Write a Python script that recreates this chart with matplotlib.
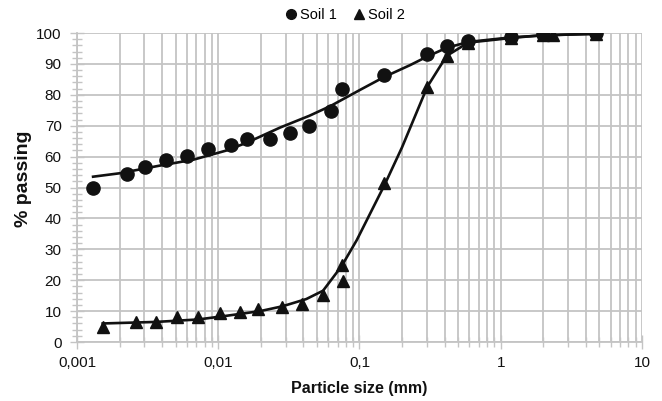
import matplotlib
matplotlib.use("Agg")
import matplotlib.pyplot as plt
from matplotlib.ticker import LogLocator, FixedLocator, FuncFormatter, NullFormatter, MultipleLocator
from matplotlib.lines import Line2D

plt.rcParams['font.family'] = ['Liberation Sans', 'DejaVu Sans']

# Measured gradation points
soil1_size = [0.0013, 0.00225, 0.00303, 0.00427, 0.00598, 0.0084, 0.01224, 0.0161,
              0.0232, 0.0322, 0.0441, 0.0625, 0.0748, 0.150, 0.302, 0.414, 0.589,
              1.19, 1.98, 4.72]
soil1_pass = [49.7, 54.4, 56.7, 58.9, 60.2, 62.6, 63.6, 65.6, 65.6, 67.7, 69.9,
              74.9, 81.8, 86.4, 93.2, 95.8, 97.5, 98.8, 99.7, 100.0]

soil2_size = [0.00152, 0.00262, 0.00362, 0.00513, 0.00722, 0.0103, 0.01425, 0.0192,
              0.0281, 0.0394, 0.0548, 0.0748, 0.076, 0.150, 0.302, 0.414, 0.589,
              1.19, 1.98, 2.36, 4.72]
soil2_pass = [5.0, 6.6, 6.6, 8.0, 8.0, 9.5, 9.8, 10.6, 11.4, 12.3, 15.2, 24.9, 19.8,
              51.4, 82.6, 92.6, 96.9, 98.4, 99.5, 99.4, 99.7]

# Fitted gradation curves
curve1_size = [0.0013, 0.002, 0.00387, 0.00666, 0.01148, 0.0161, 0.0274, 0.0441,
               0.0625, 0.101, 0.150, 0.228, 0.302, 0.414, 0.589, 1.19, 1.98, 4.72]
curve1_pass = [53.5, 54.6, 57.1, 59.0, 62.0, 64.6, 69.4, 73.2, 76.4, 81.6, 85.8,
               89.6, 92.4, 95.2, 97.1, 98.6, 99.2, 99.8]

curve2_size = [0.00152, 0.00362, 0.00722, 0.0115, 0.0198, 0.0281, 0.0322, 0.042,
               0.0552, 0.0748, 0.0957, 0.151, 0.200, 0.302, 0.414, 0.589, 1.19,
               1.98, 4.72]
curve2_pass = [6.0, 6.5, 7.3, 8.5, 10.0, 11.5, 12.3, 13.9, 16.6, 24.6, 33.0, 51.0,
               63.0, 82.6, 92.6, 96.9, 98.4, 99.3, 99.7]

x_ticks = [0.001, 0.01, 0.1, 1, 10]
x_ticklabels = ['0,001', '0,01', '0,1', '1', '10']
y_ticks = list(range(0, 101, 10))

fig = plt.figure(figsize=(6.62, 4.01), dpi=100)
ax = fig.add_axes([0.1163, 0.1471, 0.8535, 0.7706])

grid_col = '#c4c4c4'
ink = '#111111'
ax.set_xscale('log')
ax.set_xlim(0.001, 10)
ax.set_ylim(0, 100)

ax.xaxis.set_major_locator(FixedLocator(x_ticks))
ax.xaxis.set_major_formatter(FuncFormatter(lambda v, p: x_ticklabels[x_ticks.index(v)] if v in x_ticks else ''))
ax.xaxis.set_minor_locator(LogLocator(base=10, subs=range(2, 10), numticks=20))
ax.xaxis.set_minor_formatter(NullFormatter())
ax.yaxis.set_major_locator(FixedLocator(y_ticks))
ax.yaxis.set_minor_locator(MultipleLocator(2))

ax.grid(True, which='major', axis='both', color=grid_col, lw=1.3)
ax.grid(True, which='minor', axis='x', color=grid_col, lw=1.3)
ax.set_axisbelow(True)

for s in ['top', 'right']:
    ax.spines[s].set_visible(False)
for s in ['left', 'bottom']:
    ax.spines[s].set_color(grid_col)
    ax.spines[s].set_linewidth(1.3)

ax.tick_params(axis='both', which='both', direction='inout', color=grid_col, width=1.0)
ax.tick_params(axis='both', which='major', length=10, labelsize=11, labelcolor=ink)
ax.tick_params(axis='both', which='minor', length=7)
ax.tick_params(axis='x', pad=5)
ax.tick_params(axis='y', pad=6)

ax.plot(curve1_size, curve1_pass, color=ink, lw=1.9, zorder=3, solid_joinstyle='round')
ax.plot(curve2_size, curve2_pass, color=ink, lw=1.9, zorder=3, solid_joinstyle='round')
ax.plot(soil1_size, soil1_pass, 'o', color=ink, ms=9.5, ls='none', zorder=4)
ax.plot(soil2_size, soil2_pass, '^', color=ink, ms=9, ls='none', zorder=4)

fig.text(0.543, 0.030, 'Particle size (mm)', fontsize=11.5, fontweight='bold',
         ha='center', va='center', color=ink)
fig.text(0.0355, 0.554, '% passing', fontsize=14, fontweight='bold', rotation=90,
         ha='center', va='center', color=ink)

handles = [Line2D([], [], marker='o', color=ink, ls='none', ms=7),
           Line2D([], [], marker='^', color=ink, ls='none', ms=7)]
fig.legend(handles, ['Soil 1', 'Soil 2'], loc='center', bbox_to_anchor=(0.52, 0.963),
           ncol=2, frameon=False, fontsize=10.5, handletextpad=0.1, columnspacing=1.0,
           handlelength=1.0)

fig.savefig('out.png', dpi=100)
